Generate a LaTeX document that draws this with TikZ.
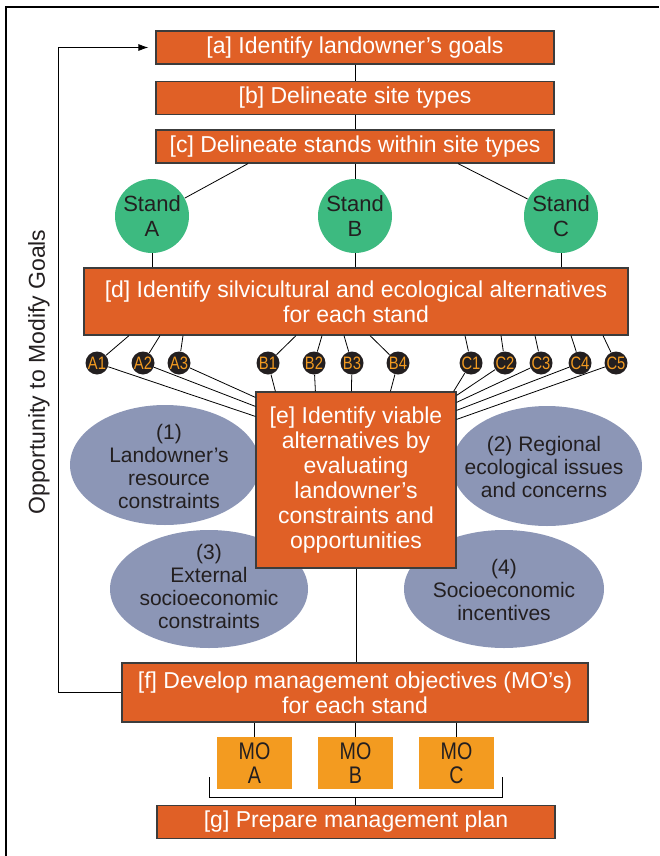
\documentclass[tikz,border=0pt]{standalone}
\usepackage{fontspec}
\setmainfont{Liberation Sans}
\newfontfamily\narrowfont{Liberation Sans}[FakeStretch=0.82]
\usetikzlibrary{arrows.meta}

\definecolor{boxorange}{HTML}{E06026}
\definecolor{boxedge}{HTML}{3C3C3C}
\definecolor{standgreen}{HTML}{3DBA80}
\definecolor{concernblue}{HTML}{8C96B6}
\definecolor{moorange}{HTML}{F39B20}
\definecolor{inkdark}{HTML}{231F20}

\begin{document}
\begin{tikzpicture}[x=1pt,y=-1pt,line width=0.8pt]
\tikzstyle{every node}=[inner sep=0,align=center]
\tikzstyle{stepbox}=[draw=boxedge,fill=boxorange,text=white,line width=1.2pt,font=\fontsize{23}{25}\selectfont]
\tikzstyle{stand}=[circle,fill=standgreen,text=inkdark,minimum size=74,font=\fontsize{22}{25}\selectfont]
\tikzstyle{alt}=[circle,fill=inkdark,text=moorange,minimum size=23,font=\narrowfont\fontsize{18}{18}\selectfont]
\tikzstyle{concern}=[text=inkdark,font=\fontsize{21}{23}\selectfont]
\tikzstyle{mobox}=[fill=moorange,text=inkdark,minimum width=75,minimum height=52,font=\narrowfont\fontsize{24}{24}\selectfont]
\useasboundingbox (0,0) rectangle (659,856);
% frame
\draw[line width=1.5pt] (6,856) -- (6,7) -- (659,7);

% issues behind [e]
\fill[concernblue] (165,465) ellipse [x radius=95,y radius=60];
\fill[concernblue] (547,466) ellipse [x radius=95,y radius=60];
\fill[concernblue] (209,589) ellipse [x radius=99,y radius=59];
\fill[concernblue] (504,589) ellipse [x radius=100,y radius=59];
\node[concern] (k1) at (169,466) {(1)\\Landowner’s\\resource\\constraints};
\node[concern] (k2) at (544,467) {(2) Regional\\ecological issues\\and concerns};
\node[concern] (k3) at (209,586) {(3)\\External\\socioeconomic\\constraints};
\node[concern] (k4) at (504,590) {(4)\\Socioeconomic\\incentives};

% steps
\node[stepbox,minimum width=398,minimum height=33] (a) at (355,47.5) {[a] Identify landowner’s goals};
\node[stepbox,minimum width=398,minimum height=33] (b) at (355,98) {[b] Delineate site types};
\node[stepbox,minimum width=398,minimum height=33] (c) at (355,146.5) {[c] Delineate stands within site types};
\node[stand] (sA) at (152,216) {Stand\\A};
\node[stand] (sB) at (355,216) {Stand\\B};
\node[stand] (sC) at (561,216) {Stand\\C};
\node[stepbox,minimum width=544,minimum height=67] (d) at (356,301.5) {[d] Identify silvicultural and ecological alternatives\\for each stand};
\node[stepbox,minimum width=200,minimum height=176] (e) at (356,480) {[e] Identify viable\\alternatives by\\evaluating\\landowner’s\\constraints and\\opportunities};
\node[stepbox,minimum width=466,minimum height=59] (f) at (355,692.5) {[f] Develop management objectives (MO’s)\\for each stand};
\node[mobox] (moA) at (254.5,763) {MO\\A};
\node[mobox] (moB) at (355.5,763) {MO\\B};
\node[mobox] (moC) at (456.5,763) {MO\\C};
\node[stepbox,minimum width=398,minimum height=33] (g) at (356,822) {[g] Prepare management plan};

\node[rotate=90,text=inkdark,font=\fontsize{23}{25}\selectfont] (modgoals) at (39,372) {Opportunity to Modify Goals};

% alternatives
\foreach \n/\x in {A1/97,A2/143,A3/179,B1/268,B2/314,B3/352,B4/398,C1/471,C2/505,C3/541,C4/580,C5/616}
  \node[alt] (\n) at (\x,363) {\n};

\draw (a) -- (b);
\draw (b) -- (c);
\draw (c.south -| 248,0) -- (sA);
\draw (c) -- (sB);
\draw (c.south -| 458,0) -- (sC);
\foreach \s in {sA,sB,sC}
  \draw (\s) -- (\s |- d.north);
\foreach \n/\x in {A1/129,A2/160,A3/183,B1/296,B2/322,B3/344,B4/370,C1/465,C2/501,C3/535,C4/571,C5/603}
  \draw (d.south -| \x,0) -- (\n);
\foreach \n/\dy in {A1/25,A2/15,A3/6}
  \draw (\n) -- ([yshift=-\dy pt]e.north west);
\foreach \n/\dx in {B1/20,B2/60,B3/96,B4/135}
  \draw (\n) -- ([xshift=\dx pt]e.north west);
\draw (C1) -- ([xshift=-3pt]e.north east);
\foreach \n/\dy in {C2/4,C3/11,C4/19,C5/28}
  \draw (\n) -- ([yshift=-\dy pt]e.north east);
\draw (e.south) -- (e.south |- f.north);
\foreach \m in {moA,moB,moC}
  \draw (\m.north) -- (\m.north |- f.south);
\coordinate (brk) at (355.5,797);
\draw (209,777) |- (brk) -| (502,777);
\draw (brk) -- (brk |- g.north);
\draw[-{Latex[length=10pt,width=7pt]},shorten >=7pt] (f.west) -- ++(-63,0) |- (a.west);
\end{tikzpicture}
\end{document}
